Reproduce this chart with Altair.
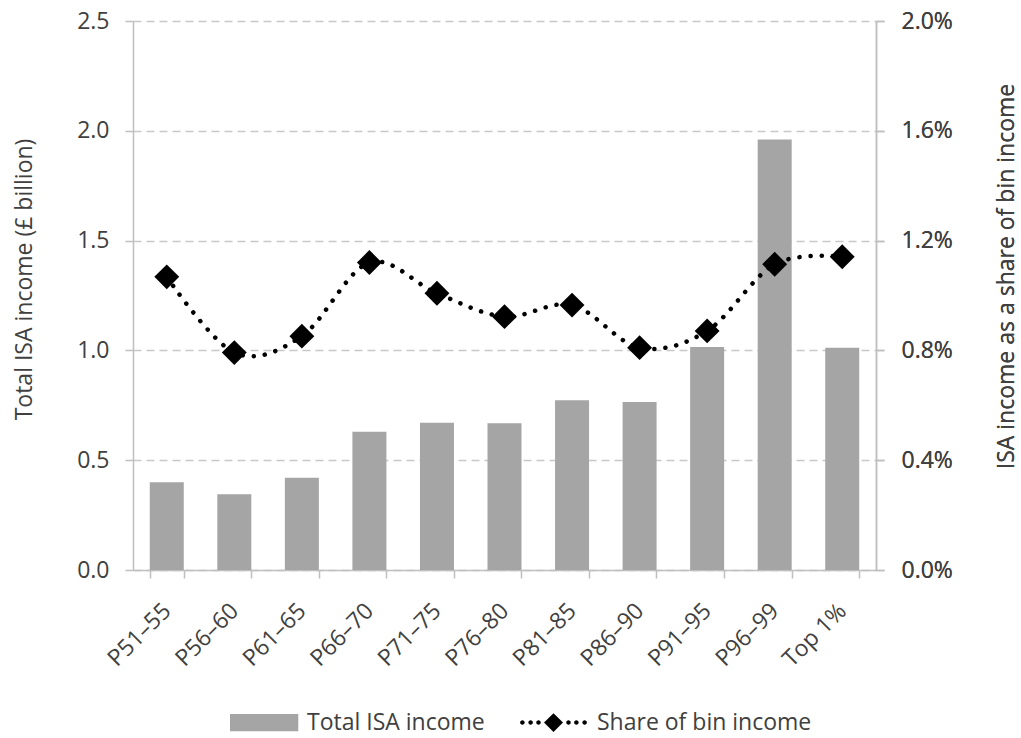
import altair as alt
import pandas as pd

# Income bins (percentiles of the income distribution)
categories = ["P51–55", "P56–60", "P61–65", "P66–70", "P71–75", "P76–80",
              "P81–85", "P86–90", "P91–95", "P96–99", "Top 1%"]
# Total ISA income, £ billion
total_isa = [0.40, 0.345, 0.42, 0.63, 0.67, 0.668, 0.773, 0.765, 1.015, 1.96, 1.012]
# ISA income as a share of the bin's total income
share_of_bin = [0.01068, 0.00792, 0.00852, 0.0112, 0.01008, 0.00923,
                0.00965, 0.0081, 0.00871, 0.01114, 0.01141]

BAR_LABEL = "Total ISA income"
LINE_LABEL = "Share of bin income"

df = pd.DataFrame({"bin": categories, "isa": total_isa, "share": share_of_bin})

FONT = "Open Sans"
FS = 23
TEXT = "#404040"
AXIS_GREY = "#bfbfbf"

# legend glyphs (unit box, scaled by the symbol size)
bar_glyph = "M-1,-0.23H0.82V0.23H-1Z"


def dot(cx, r=0.06):
    return f"M{cx - r:.3f},0a{r},{r} 0 1,0 {2 * r},0a{r},{r} 0 1,0 {-2 * r},0Z"


line_glyph = (dot(-0.83) + dot(-0.61) + dot(-0.40)
              + "M-0.253,0L0,-0.25L0.253,0L0,0.25Z"
              + dot(0.40) + dot(0.61) + dot(0.83))

legend_style = dict(
    title=None, orient="none", direction="horizontal",
    labelFont=FONT, labelFontSize=FS, labelColor=TEXT, labelLimit=400,
    symbolSize=5625, symbolStrokeWidth=0, legendY=664,
)

x = alt.X(
    "bin:N", sort=categories,
    scale=alt.Scale(paddingInner=0.5, paddingOuter=0.25),
    axis=alt.Axis(
        title=None, labelAngle=315, labelAlign="right", labelBaseline="middle",
        labelFont=FONT, labelFontSize=FS, labelColor=TEXT, labelPadding=29,
        domainColor=AXIS_GREY, domainWidth=1.5, tickColor=AXIS_GREY, tickWidth=1.5,
        tickSize=8, tickBand="extent", grid=False,
    ),
)

bars = alt.Chart(df).transform_calculate(series=f"'{BAR_LABEL}'").mark_bar(
    size=34
).encode(
    x=x,
    y=alt.Y(
        "isa:Q",
        scale=alt.Scale(domain=[0, 2.5], nice=False),
        axis=alt.Axis(
            title="Total ISA income (£ billion)", values=[0, 0.5, 1.0, 1.5, 2.0, 2.5],
            format=".1f", orient="left",
            labelFont=FONT, labelFontSize=FS, labelColor=TEXT, labelPadding=16,
            titleFont=FONT, titleFontSize=FS, titleFontWeight="normal", titleColor=TEXT,
            titlePadding=40, titleY=258,
            domainColor=AXIS_GREY, domainWidth=1.5, tickColor=AXIS_GREY, tickWidth=1.5,
            tickSize=8, grid=True, gridColor="#c8c8c8", gridWidth=1.5, gridDash=[8, 5],
        ),
    ),
    color=alt.Color(
        "series:N",
        scale=alt.Scale(domain=[BAR_LABEL], range=["#a5a5a5"]),
        legend=alt.Legend(symbolType=bar_glyph, symbolFillColor="#a5a5a5",
                          legendX=97, labelOffset=2, **legend_style),
    ),
)

right_axis = alt.Axis(
    title="ISA income as a share of bin income",
    values=[0, 0.004, 0.008, 0.012, 0.016, 0.02], format=".1%", orient="right",
    labelFont=FONT, labelFontSize=FS, labelColor=TEXT, labelPadding=17,
    titleFont=FONT, titleFontSize=FS, titleFontWeight="normal", titleColor=TEXT,
    titleAngle=270, titlePadding=66, titleY=255,
    domainColor=AXIS_GREY, domainWidth=1.5, tickColor=AXIS_GREY, tickWidth=1.5,
    tickSize=8, grid=False,
)
y_share = alt.Y("share:Q", scale=alt.Scale(domain=[0, 0.02], nice=False), axis=right_axis)

share_base = alt.Chart(df).transform_calculate(series=f"'{LINE_LABEL}'")

line = share_base.mark_line(
    interpolate="cardinal", strokeWidth=4.5, strokeDash=[0.1, 11], strokeCap="round",
    color="black",
).encode(x=x, y=y_share)

points = share_base.mark_point(
    shape="diamond", filled=True, size=620, color="black"
).encode(
    x=x, y=y_share,
    opacity=alt.Opacity(
        "series:O",
        scale=alt.Scale(domain=[LINE_LABEL], range=[1, 1]),
        legend=alt.Legend(symbolType=line_glyph, symbolFillColor="black",
                          legendX=383, labelOffset=6, **legend_style),
    ),
)

chart = alt.layer(bars, line, points).resolve_scale(y="independent").properties(
    width=743, height=549,
    autosize=alt.AutoSizeParams(type="none"),
    padding={"left": 133, "top": 21, "right": 145, "bottom": 168},
    background="white",
).configure_view(stroke=None)

chart.save("out.html", embed_options={"renderer": "svg", "actions": False})
